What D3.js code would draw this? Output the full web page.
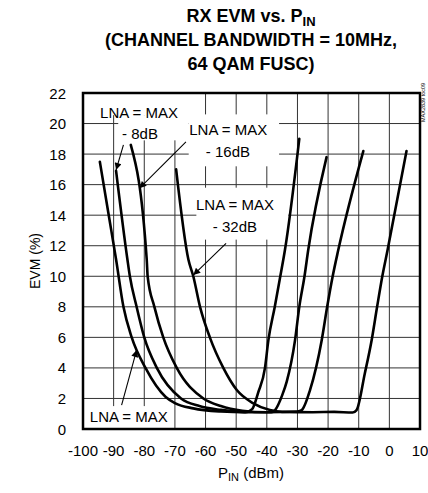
<!DOCTYPE html>
<html><head><meta charset="utf-8">
<script src="https://cdn.jsdelivr.net/npm/d3@7"></script>
<style>body{margin:0;background:#fff}svg{display:block;font-family:"Liberation Sans",Arial,sans-serif}</style>
</head><body><svg id="c" width="428" height="493"></svg>
<script>
// ---- data ----
const xTicks = [-100,-90,-80,-70,-60,-50,-40,-30,-20,-10,0,10];
const yTicks = [0,2,4,6,8,10,12,14,16,18,20,22];
const seriesNames = ["LNA = MAX","LNA = MAX - 8dB","LNA = MAX - 16dB","LNA = MAX - 32dB"];
const lnaMax = [[-94.5,17.5],[-91.6,14],[-89.2,11.1],[-86.8,8],[-84.1,6],[-79.6,4],[-73,2.1],[-70,1.7],[-64,1.35],[-55,1.15],[-47,1.1],[-44.8,1.3],[-42.8,2.4],[-40.6,4],[-39.5,5.8],[-37.4,8],[-35.6,10],[-34.1,11.7],[-29.4,19]];
const lna8 = [[-89.2,16.9],[-85.5,11.1],[-84.7,10],[-82.5,8],[-80.0,6],[-75.9,4],[-68,2.0],[-62,1.5],[-55,1.25],[-45,1.1],[-38.5,1.1],[-37.3,1.24],[-35,2.2],[-33.5,3.1],[-30.8,5.8],[-29.4,8],[-27.7,10],[-26.5,11.7],[-20.5,17.8]];
const lna16 = [[-84.4,18.6],[-79.2,11.1],[-78.9,10],[-76.7,8],[-73.8,6],[-69.4,4],[-60.7,2.0],[-55,1.5],[-48,1.2],[-40,1.1],[-30,1.15],[-28.6,1.24],[-25.9,2.55],[-22.1,5.8],[-20.3,8],[-18.5,10],[-16.7,11.7],[-8.5,18.2]];
const lna32 = [[-69.6,17.0],[-65.6,11.1],[-64.0,10],[-61.8,8],[-58.6,6],[-54.2,4],[-49.8,2.55],[-44.4,1.68],[-39,1.24],[-35,1.12],[-25,1.1],[-18,1.12],[-12,1.08],[-10.7,1.24],[-8,3.65],[-5.8,5.8],[-4.0,8],[-2.3,10],[-0.6,11.7],[5.6,18.2]];
const series = [lnaMax, lna8, lna16, lna32];

const svg = d3.select("#c");
const x = d3.scaleLinear().domain([-100,10]).range([83,420]);
const y = d3.scaleLinear().domain([0,22]).range([429,93]);

// title
const t = svg.append("text").attr("text-anchor","middle").attr("font-weight","bold").attr("font-size",18).attr("fill","#000");
const l1 = t.append("tspan").attr("x",251).attr("y",22);
l1.append("tspan").text("RX EVM vs. P");
l1.append("tspan").attr("font-size",13).attr("dy",4).text("IN");
t.append("tspan").attr("x",251).attr("y",46).text("(CHANNEL BANDWIDTH = 10MHz,");
t.append("tspan").attr("x",251).attr("y",70).text("64 QAM FUSC)");

// grid
const g = svg.append("g");
g.selectAll(".vg").data(xTicks.slice(1,-1)).join("line")
  .attr("x1",d=>x(d)).attr("x2",d=>x(d)).attr("y1",y(0)).attr("y2",y(22))
  .attr("stroke","#333").attr("stroke-width",1);
g.selectAll(".hg").data(yTicks.slice(1,-1)).join("line")
  .attr("y1",d=>y(d)).attr("y2",d=>y(d)).attr("x1",x(-100)).attr("x2",x(10))
  .attr("stroke","#333").attr("stroke-width",1);

// white label boxes
const boxes = [
  [-98,-65.5,22,20.55],
  [-88.5,-65.5,20.55,18.9],
  [-65.5,-36,20.6,17.2],
  [-63,-33,15.8,12.4],
  [-98.8,-71,1.5,0.05]
];
svg.selectAll(".bx").data(boxes).join("rect")
  .attr("x",d=>x(d[0])).attr("width",d=>x(d[1])-x(d[0]))
  .attr("y",d=>y(d[2])).attr("height",d=>y(d[3])-y(d[2]))
  .attr("fill","#fff");

// axes ticks labels
svg.append("g").selectAll("text").data(yTicks).join("text")
  .attr("x",66).attr("y",d=>y(d)+5.5).attr("text-anchor","end").attr("font-size",15).text(d=>d);
svg.append("g").selectAll("text").data(xTicks).join("text")
  .attr("x",d=>x(d)).attr("y",456).attr("text-anchor","middle").attr("font-size",15).text(d=>d);

// axis titles
const xl = svg.append("text").attr("x",251).attr("y",478).attr("text-anchor","middle").attr("font-size",15);
xl.append("tspan").text("P");
xl.append("tspan").attr("font-size",11).attr("dy",3).text("IN");
xl.append("tspan").attr("dy",-3).text(" (dBm)");
svg.append("text").attr("transform","translate(40,261) rotate(-90)").attr("text-anchor","middle").attr("font-size",14).text("EVM (%)");

// curves
const line = d3.line().x(d=>x(d[0])).y(d=>y(d[1])).curve(d3.curveMonotoneX);
svg.append("g").selectAll("path").data(series).join("path")
  .attr("d",line).attr("fill","none").attr("stroke","#000").attr("stroke-width",2.6)
  .attr("stroke-linejoin","round").attr("stroke-linecap","round");

// labels
const labels = [
  ["LNA = MAX",-81.7,20.37],["- 8dB",-81.4,18.96],
  ["LNA = MAX",-52.6,19.25],["- 16dB",-52.7,17.8],
  ["LNA = MAX",-50.4,14.34],["- 32dB",-50.4,12.92],
  ["LNA = MAX",-85.05,0.48]
];
svg.append("g").selectAll("text").data(labels).join("text")
  .attr("x",d=>x(d[1])).attr("y",d=>y(d[2])).attr("text-anchor","middle").attr("font-size",15).text(d=>d[0]);

// arrows
svg.append("defs").append("marker").attr("id","ah").attr("viewBox","0 0 10 10")
  .attr("refX",10).attr("refY",5).attr("markerWidth",10).attr("markerHeight",7)
  .attr("markerUnits","userSpaceOnUse").attr("orient","auto")
  .append("path").attr("d","M0,0L10,5L0,10Z").attr("fill","#000");
const arrows = [
  [-86.8,18.6,-89.2,16.96],
  [-66.4,18.8,-81.6,15.76],
  [-53.3,12.16,-64.0,10.08],
  [-87.4,1.57,-82.5,5.17]
];
svg.append("g").selectAll("line").data(arrows).join("line")
  .attr("x1",d=>x(d[0])).attr("y1",d=>y(d[1])).attr("x2",d=>x(d[2])).attr("y2",d=>y(d[3]))
  .attr("stroke","#000").attr("stroke-width",1.1).attr("marker-end","url(#ah)");

// frame
svg.append("rect").attr("x",x(-100)).attr("y",y(22)).attr("width",x(10)-x(-100)).attr("height",y(0)-y(22))
  .attr("fill","none").attr("stroke","#000").attr("stroke-width",2.5);

// watermark
svg.append("text").attr("transform","translate(425,122) rotate(-90)").attr("font-size",5.5).text("MAX2839 toc09");
</script></body></html>
